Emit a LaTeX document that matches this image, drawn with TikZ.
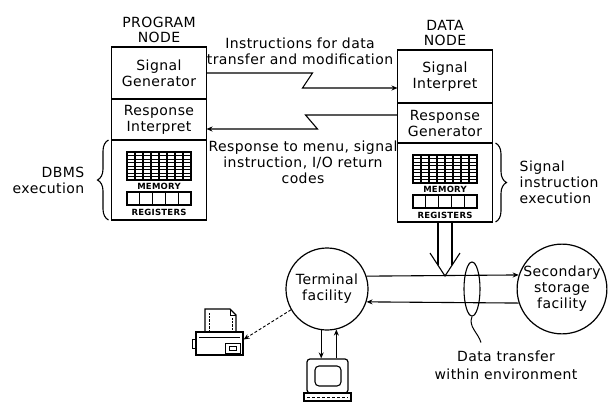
\documentclass[tikz,border=0pt]{standalone}
\usepackage{fontspec}
\setmainfont{DejaVu Sans}[LetterSpace=3]
\usetikzlibrary{positioning,calc}
\usetikzlibrary{shapes.geometric}
\usetikzlibrary{decorations.pathreplacing}
\usetikzlibrary{arrows.meta}

\begin{document}
\begin{tikzpicture}[x=1pt,y=-1pt,
         every node/.style = {font=\fontsize{14}{16}\selectfont, inner sep=1pt},
         cell/.style = {draw, line width=1.2pt, minimum width=95pt, inner sep=0pt,
         outer sep=0pt, align=center},
         unit/.style = {circle, draw, line width=1.2pt, minimum size=82pt,
         inner sep=0pt, align=center},
         tag/.style = {font=\bfseries\fontsize{8.5}{9}\selectfont, inner sep=0pt},
         link/.style = {line width=1.1pt, -{Stealth[length=6pt,width=5pt]}},
         curly/.style = {line width=1.1pt, decorate, decoration={brace,amplitude=11pt}}
]
      \useasboundingbox (0,0) rectangle (608,402);

      % program node
      \node[cell, minimum height=52pt]                       (pgen) at (159,73) {Signal\\Generator};
      \node[cell, minimum height=41pt, below=0pt of pgen]    (pint) {Response\\Interpret};
      \node[cell, minimum height=80pt, below=0pt of pint]    (pexe) {};
      \node[align=center, above=3pt of pgen, font=\fontsize{14}{15}\selectfont] (ptitle)
      {PROGRAM\\NODE};

      % data node
      \node[cell, minimum height=53pt]                       (dsig) at (445,76.5) {Signal\\Interpret};
      \node[cell, minimum height=40pt, below=0pt of dsig]    (dres) {Response\\Generator};
      \node[cell, minimum height=79pt, below=0pt of dres]    (dexe) {};
      \node[align=center, above=3pt of dsig, font=\fontsize{14}{15}\selectfont] (dtitle)
      {DATA\\NODE};

      % memory and registers
      \foreach \n in {pexe,dexe} {
         \begin{scope}[shift={(\n.north)}]
            \draw[line width=1.1pt] (-32,12) rectangle (32,40);
            \foreach \i in {1,...,7}
               \draw[line width=1.1pt] (-32+8*\i,12) -- ++(0,28);
            \foreach \j in {1,...,7}
               \draw[line width=0.8pt] (-32,12+3.5*\j) -- ++(64,0);
            \node[tag] (mem-\n) at (0,46) {MEMORY};
            \foreach \i in {0,...,4}
               \draw[line width=1.1pt] (-32+12.8*\i,52) rectangle ++(12.8,13);
            \node[tag] (reg-\n) at (0,72) {REGISTERS};
         \end{scope}
      }

      % braces
      \draw[curly] ([xshift=-3pt]pexe.south west) -- ([xshift=-3pt]pexe.north west);
      \node[align=right, left=26pt of pexe.west] (dbms) {DBMS\\execution};
      \draw[curly] ([xshift=3pt]dexe.north east) -- ([xshift=3pt]dexe.south east);
      \node[align=left, right=26pt of dexe.east] (sigexe) {Signal\\instruction\\execution};

      % instructions and responses
      \node[align=center] (instr) at (300,51) {Instructions for data\\transfer and modification};
      \draw[link] (pgen.east) -- ++(106,0) -- ++(-10,15) coordinate (zin) -- (zin -| dsig.west);
      \draw[link] ([yshift=8pt]dres.west) -- ++(-92,0) -- ++(12,14) coordinate (zout)
      -- (zout -| pint.east);
      \node[align=center] (resp) at (303,162) {Response to menu, signal\\instruction, I/O return\\codes};

      % facilities
      \node[unit]                     (term)  at (327,289) {Terminal\\facility};
      \node[unit, minimum size=84pt]  (store) at (562,289) {Secondary\\storage\\facility};
      \draw[link] (term.18) -- (store.162);
      \draw[link] (store.198) -- (term.342);

      % hollow arrow down from the data node
      \coordinate (tip) at ($(dexe.south)+(0,54)$);
      \draw[line width=1.1pt] ([xshift=-7pt]dexe.south) -- ++(0,43);
      \draw[line width=1.1pt] ([xshift=7pt]dexe.south) -- ++(0,43);
      \draw[line width=1.1pt] ($(tip)+(-15,-23)$) -- (tip) -- ($(tip)+(15,-23)$);

      % data transfer bundle
      \node[ellipse, draw, line width=1.1pt, minimum width=16pt, minimum height=54pt,
      inner sep=0pt] (bundle) at (472,289) {};
      \draw[line width=1pt] (bundle.south) .. controls +(-4,10) and +(-3,-10) .. ++(9,26)
      coordinate (tail);
      \node[align=center, font=\fontsize{14}{18}\selectfont] (envlbl) at (506,365)
      {Data transfer\\within environment};

      % printer
      \node[draw, line width=1.2pt, minimum width=47pt, minimum height=23pt, inner sep=0pt]
      (printer) at (219.5,343.5) {};
      \draw[line width=1.1pt] (205,332) -- (205,309) -- (230,309) -- (236,315) -- (236,332);
      \draw[line width=0.8pt] (230,309) -- (230,315) -- (236,315);
      \draw[densely dotted] (209,313) -- (209,330);
      \draw[densely dotted] (232,318) -- (232,330);
      \draw[line width=0.8pt] (199,337) -- (240,337);
      \draw[line width=1pt] (196,339) -- (192,339) -- (192,348) -- (196,348);
      \draw[line width=1pt] (225,343) rectangle (240,353);
      \draw[line width=0.8pt] (229,346) rectangle (236,350);
      \draw[line width=0.9pt, densely dashed, -{Stealth[length=6pt,width=5pt,open]}]
      (term.210) -- ([yshift=4pt]printer.east);

      % terminal
      \node[draw, line width=1.2pt, rounded corners=3pt, minimum width=41pt, minimum height=34pt,
      inner sep=0pt] (screen) at (327.5,376) {};
      \draw[line width=1.1pt, rounded corners=4pt] (315,366) rectangle (341,386);
      \draw[line width=1.1pt] (304,393) rectangle (351,401);
      \draw[densely dashed] (307,397) -- (348,397);
      \draw[link] (term.262) -- (term.262 |- screen.north);
      \draw[link] (term.283 |- screen.north) -- (term.283);

\end{tikzpicture}
\end{document}
